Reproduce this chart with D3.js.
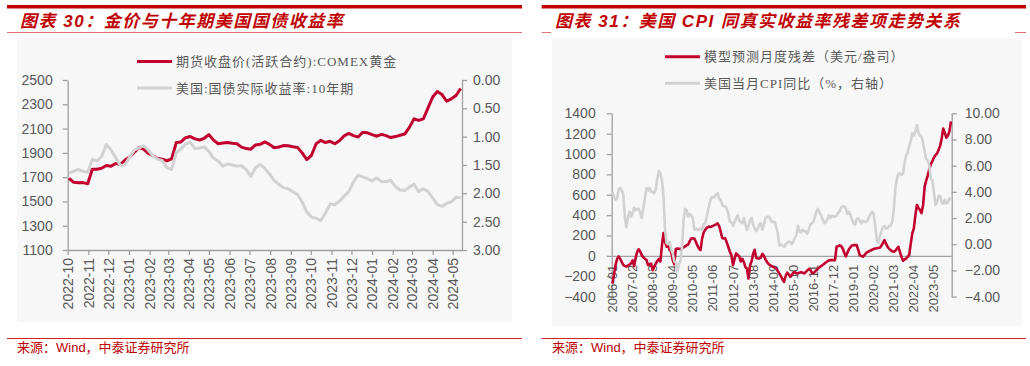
<!DOCTYPE html>
<html>
<head>
<meta charset="utf-8">
<style>
  body { margin: 0; background: #fff; }
  svg text { font-family: "Liberation Sans", Arial, sans-serif; fill: #595959; }
  .title { font-family: "Liberation Sans", "Noto Sans CJK SC", sans-serif; font-weight: bold; font-style: italic; font-size: 17px; letter-spacing: 1.5px; }
  svg text.title { fill: #c00000; }
  .legend { font-family: "Liberation Serif", "Noto Sans CJK SC", serif; font-size: 13px; letter-spacing: 1px; }
  svg text.source { fill: #c00000; font-size: 13px; font-family: "Liberation Sans", "Noto Sans CJK SC", sans-serif; }
  .axis text { font-size: 14px; }
  .axis path, .axis line { stroke: #a0a0a0; stroke-width: 1.3; }
</style>
</head>
<body>
<svg id="chart" width="1030" height="366"></svg>
<script src="https://d3js.org/d3.v7.min.js"></script>
<script>
  // ---- chart 30: gold vs 10y real yield (weekly readings) ----
  const goldFirstWeek = new Date(2022, 9, 3);
  const goldPrice = [
    1690, 1657, 1654, 1655, 1645, 1765, 1765, 1773, 1796, 1789,
    1812, 1803, 1841, 1866, 1905, 1943, 1931, 1895, 1876, 1854,
    1848, 1835, 1850, 1985, 1990, 2025, 2035, 2015, 2006, 2020,
    2050, 2005, 1975, 1982, 1985, 1979, 1975, 1947, 1935, 1930,
    1965, 1970, 1990, 1970, 1942, 1948, 1960, 1958, 1951, 1945,
    1900, 1845, 1880, 1975, 2003, 1985, 1995, 1975, 2000, 2040,
    2060, 2042, 2030, 2070, 2065, 2050, 2037, 2052, 2042, 2026,
    2034, 2045, 2055, 2110, 2180, 2167, 2180, 2270, 2360, 2405,
    2380, 2325, 2345, 2372, 2430
  ];
  const realYield = [
    1.64, 1.61, 1.58, 1.61, 1.63, 1.40, 1.43, 1.35, 1.14, 1.23,
    1.37, 1.51, 1.50, 1.36, 1.24, 1.20, 1.16, 1.24, 1.34, 1.40,
    1.42, 1.55, 1.58, 1.28, 1.22, 1.13, 1.10, 1.21, 1.20, 1.18,
    1.26, 1.38, 1.43, 1.52, 1.48, 1.50, 1.52, 1.51, 1.58, 1.70,
    1.55, 1.49, 1.56, 1.66, 1.77, 1.84, 1.90, 1.92, 1.97, 2.02,
    2.15, 2.33, 2.42, 2.44, 2.48, 2.35, 2.19, 2.20, 2.14, 2.05,
    1.97, 1.80, 1.68, 1.71, 1.74, 1.78, 1.73, 1.79, 1.79, 1.77,
    1.88, 1.94, 1.95, 1.89, 1.84, 1.97, 1.92, 1.97, 2.08, 2.20,
    2.23, 2.18, 2.15, 2.07, 2.08
  ];
  const goldTicks = [1100, 1300, 1500, 1700, 1900, 2100, 2300, 2500];
  const yieldTicks = [0, 0.5, 1, 1.5, 2, 2.5, 3];
  const legend30 = ['期货收盘价(活跃合约):COMEX黄金', '美国:国债实际收益率:10年期'];

  // ---- chart 31: model residual vs US CPI yoy (monthly 2006-01 .. 2024-04) ----
  const residual = [
    -272, -180, -90, -30, -5, -30, -60, -90, -100, -105,
    -95, -85, -75, -45, -100, -20, 40, 65, 40, 5,
    -15, -28, -40, -90, -85, -75, -140, -110, -75, -50,
    -30, -55, 100, 225, 138, 90, 100, 58, 40, -40,
    -80, 68, 72, 70, 66, 75, 85, 92, 105, 112,
    145, 171, 172, 171, 135, 100, 72, 56, 170, 230,
    255, 275, 286, 285, 286, 295, 302, 310, 319, 295,
    240, 175, 171, 172, 130, 85, 40, 5, -92, -30,
    24, 10, -5, -55, -30, -60, -110, -125, -223, -92,
    -55, 20, 60, -20, -26, -26, -15, 20, 0, -35,
    -60, -80, -92, -100, -108, -115, -124, -150, -175, -200,
    -230, -256, -200, -165, -180, -205, -190, -165, -160, -170,
    -172, -165, -160, -165, -172, -160, -145, -130, -135, -165,
    -170, -155, -140, -125, -110, -100, -90, -78, -65, -55,
    -45, -42, -42, -42, -42, 89, 95, 104, 95, 72,
    30, -5, 30, 65, 85, 102, 105, 105, 105, 60,
    8, 0, -8, 5, 25, 38, 45, 53, 60, 67,
    72, 75, 77, 79, 100, 125, 155, 120, 89, 70,
    56, 45, 40, 50, 70, 89, 40, -10, -49, -35,
    -26, -10, 10, 120, 220, 270, 400, 500, 470, 450,
    420, 500, 680, 740, 790, 850, 900, 930, 965, 990,
    1005, 1040, 1080, 1150, 1250, 1210, 1160, 1180, 1220, 1320
  ];
  const cpiYoy = [
    4.0, 3.6, 3.4, 3.5, 4.2, 4.3, 4.1, 3.8, 2.1, 1.3, 2.0, 2.5,
    2.1, 2.4, 2.8, 2.6, 2.7, 2.7, 2.4, 2.0, 2.8, 3.5, 4.3, 4.1,
    4.3, 4.0, 4.0, 3.9, 4.2, 5.0, 5.6, 5.4, 4.9, 3.7, 1.1, 0.1,
    0.0, 0.2, -0.4, -0.7, -1.3, -1.4, -2.1, -1.5, -1.3, -0.2, 1.8, 2.7,
    2.6, 2.1, 2.3, 2.2, 2.0, 1.1, 1.2, 1.1, 1.1, 1.2, 1.1, 1.5,
    1.6, 2.1, 2.7, 3.2, 3.6, 3.6, 3.6, 3.8, 3.9, 3.5, 3.4, 3.0,
    2.9, 2.9, 2.7, 2.3, 1.7, 1.7, 1.4, 1.7, 2.0, 2.2, 1.8, 1.7,
    1.6, 2.0, 1.5, 1.1, 1.4, 1.8, 2.0, 1.5, 1.2, 1.0, 1.2, 1.5,
    1.6, 1.1, 1.5, 2.0, 2.1, 2.1, 2.0, 1.7, 1.7, 1.7, 1.3, 0.8,
    -0.1, 0.0, -0.1, -0.2, 0.0, 0.1, 0.2, 0.2, 0.0, 0.2, 0.5, 0.7,
    1.4, 1.0, 0.9, 1.1, 1.0, 1.0, 0.8, 1.1, 1.5, 1.6, 1.7, 2.1,
    2.5, 2.7, 2.4, 2.2, 1.9, 1.6, 1.7, 1.9, 2.2, 2.0, 2.2, 2.1,
    2.1, 2.2, 2.4, 2.5, 2.8, 2.9, 2.9, 2.7, 2.3, 2.5, 2.2, 1.9,
    1.6, 1.5, 1.9, 2.0, 1.8, 1.6, 1.8, 1.7, 1.7, 1.8, 2.1, 2.3,
    2.5, 2.3, 1.5, 0.3, 0.1, 0.6, 1.0, 1.3, 1.4, 1.2, 1.2, 1.4,
    1.4, 1.7, 2.6, 4.2, 5.0, 5.4, 5.4, 5.3, 5.4, 6.2, 6.8, 7.0,
    7.5, 7.9, 8.5, 8.3, 8.6, 9.1, 8.5, 8.3, 8.2, 7.7, 7.1, 6.5,
    6.4, 6.0, 5.0, 4.9, 4.0, 3.0, 3.2, 3.7, 3.7, 3.2, 3.1, 3.4,
    3.1, 3.2, 3.5, 3.4
  ];
  const residualTicks = [-400, -200, 0, 200, 400, 600, 800, 1000, 1200, 1400];
  const cpiTicks = [-4, -2, 0, 2, 4, 6, 8, 10];
  const legend31 = ['模型预测月度残差（美元/盎司）', '美国当月CPI同比（%，右轴）'];

  const RED = '#c0002f';
  const GREY = '#d2d2d2';
  const svg = d3.select('#chart');

  // frame: red bars, titles, sources
  function frame(x0, x1, title, tx) {
    svg.append('rect').attr('x', x0).attr('y', 5).attr('width', x1 - x0).attr('height', 3.5).attr('fill', '#c00000');
    svg.append('text').attr('class', 'title').attr('x', tx).attr('y', 21).attr('dy', '0.35em').text(title);
    svg.append('line').attr('x1', x0).attr('x2', x1).attr('y1', 338.5).attr('y2', 338.5)
      .attr('stroke', '#d42020').attr('stroke-width', 1);
    svg.append('text').attr('class', 'source').attr('x', tx - 3).attr('y', 347.5).attr('dy', '0.35em')
      .text('来源：Wind，中泰证券研究所');
  }
  frame(7, 522, '图表 30：金价与十年期美国国债收益率', 20);
  frame(541.7, 1026, '图表 31：美国 CPI 同真实收益率残差项走势关系', 555);
  // thin rules under the titles
  svg.append('line').attr('x1', 7).attr('x2', 522).attr('y1', 32.5).attr('y2', 32.5).attr('stroke', '#e07070').attr('stroke-width', 1);
  [[541.7, 551], [1015, 1026]].forEach(s => {
    svg.append('line').attr('x1', s[0]).attr('x2', s[1]).attr('y1', 32.5).attr('y2', 32.5).attr('stroke', '#e07070').attr('stroke-width', 1);
  });

  // panels
  svg.append('rect').attr('x', 17).attr('y', 38).attr('width', 495).attr('height', 284).attr('fill', '#f7f7f7');
  svg.append('rect').attr('x', 552).attr('y', 38).attr('width', 470).attr('height', 288).attr('fill', '#f7f7f7');

  function legend(x, y0, labels) {
    labels.forEach((t, i) => {
      const y = y0 + i * 26.5;
      svg.append('line').attr('x1', x).attr('x2', x + 35).attr('y1', y).attr('y2', y)
        .attr('stroke', i === 0 ? RED : GREY).attr('stroke-width', 3);
      svg.append('text').attr('class', 'legend').attr('x', x + 39).attr('y', y).attr('dy', '0.35em').text(t);
    });
  }

  // ---------- chart 30 ----------
  const weeks = goldPrice.map((d, i) => d3.timeDay.offset(goldFirstWeek, 7 * i));
  const x30 = d3.scaleTime().domain([new Date(2022, 9, 1), new Date(2024, 4, 15)]).range([67.7, 462]);
  const yGold = d3.scaleLinear().domain([1100, 2500]).range([250, 80]);
  const yYield = d3.scaleLinear().domain([0, 3]).range([80, 250]);

  svg.append('g').attr('class', 'axis').attr('transform', 'translate(67.7,0)')
    .call(d3.axisLeft(yGold).tickValues(goldTicks).tickSize(5).tickSizeOuter(0).tickPadding(10).tickFormat(d3.format('d')));
  svg.append('g').attr('class', 'axis').attr('transform', 'translate(462,0)')
    .call(d3.axisRight(yYield).tickValues(yieldTicks).tickSize(5).tickSizeOuter(0).tickPadding(6).tickFormat(d3.format('.2f')));
  svg.append('g').attr('class', 'axis').attr('transform', 'translate(0,250)')
    .call(d3.axisBottom(x30).tickValues(d3.timeMonth.range(new Date(2022, 9, 1), new Date(2024, 5, 1)))
      .tickSize(5).tickSizeOuter(0).tickFormat(d3.timeFormat('%Y-%m')))
    .selectAll('text')
    .attr('x', -8).attr('y', 0).attr('dy', '0.35em')
    .attr('transform', 'rotate(-90)').style('text-anchor', 'end');

  svg.append('path').datum(goldPrice)
    .attr('fill', 'none').attr('stroke', RED).attr('stroke-width', 3).attr('stroke-linejoin', 'round')
    .attr('d', d3.line().x((d, i) => x30(weeks[i])).y(d => yGold(d)));
  svg.append('path').datum(realYield)
    .attr('fill', 'none').attr('stroke', GREY).attr('stroke-width', 3).attr('stroke-linejoin', 'round')
    .attr('d', d3.line().x((d, i) => x30(weeks[i])).y(d => yYield(d)));

  legend(137, 61.5, legend30);

  // ---------- chart 31 ----------
  const months = d3.timeMonth.range(new Date(2006, 0, 1), new Date(2024, 4, 1));
  const x31 = d3.scaleBand().domain(months).range([611.7, 951.7]);
  const yRes = d3.scaleLinear().domain([-400, 1400]).range([296.6, 113.3]);
  const yCpi = d3.scaleLinear().domain([-4, 10]).range([296.6, 113.3]);
  const mx = i => x31(months[i]) + x31.bandwidth() / 2;

  svg.append('g').attr('class', 'axis').attr('transform', 'translate(611.7,0)')
    .call(d3.axisLeft(yRes).tickValues(residualTicks).tickSize(5).tickSizeOuter(0).tickPadding(11).tickFormat(d3.format('d')));
  svg.append('g').attr('class', 'axis').attr('transform', 'translate(951.7,0)')
    .call(d3.axisRight(yCpi).tickValues(cpiTicks).tickSize(5).tickSizeOuter(0).tickPadding(8).tickFormat(d3.format('.2f')));

  const xAxis31 = svg.append('g').attr('class', 'axis').attr('transform', `translate(0,${yRes(0)})`)
    .call(d3.axisBottom(x31).tickValues(months.filter((d, i) => i % 13 === 0))
      .tickSize(0).tickSizeOuter(0).tickFormat(d3.timeFormat('%Y-%m')));
  xAxis31.selectAll('text')
    .attr('x', -9).attr('y', 0).attr('dy', '0.35em').style('font-size', '13px')
    .attr('transform', 'rotate(-90)').style('text-anchor', 'end');

  svg.append('path').datum(residual)
    .attr('fill', 'none').attr('stroke', RED).attr('stroke-width', 2.6).attr('stroke-linejoin', 'round')
    .attr('d', d3.line().x((d, i) => mx(i)).y(d => yRes(d)));
  svg.append('path').datum(cpiYoy)
    .attr('fill', 'none').attr('stroke', GREY).attr('stroke-width', 2.6).attr('stroke-linejoin', 'round')
    .attr('d', d3.line().x((d, i) => mx(i)).y(d => yCpi(d)));

  legend(665, 56.7, legend31);
</script>
</body>
</html>
